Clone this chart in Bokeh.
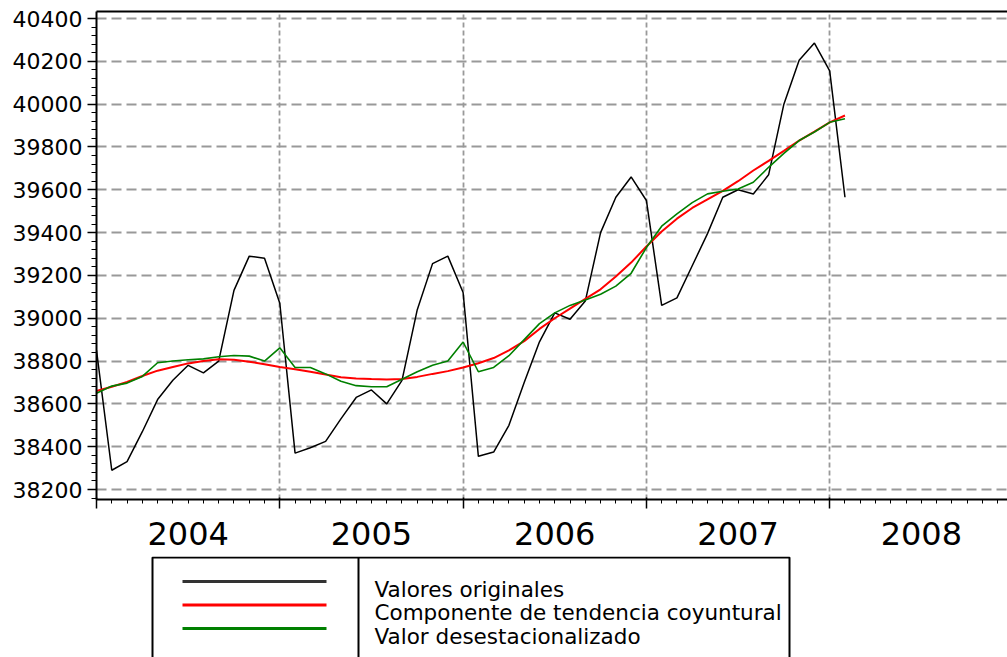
from bokeh.plotting import figure
from bokeh.models import (FixedTicker, LinearAxis, Range1d, CustomJSTickFormatter)
from bokeh.layouts import column
from bokeh.core.properties import value
from bokeh.embed import file_html
from bokeh.resources import INLINE

# ---------------- data (monthly, starting January 2004) ----------------
start_year = 2004
original = [38850, 38290, 38330, 38470, 38620, 38710, 38780, 38745, 38800, 39130, 39290, 39280,
            39070, 38370, 38395, 38425, 38530, 38630, 38665, 38600, 38710, 39040, 39255, 39290,
            39120, 38355, 38375, 38500, 38700, 38890, 39025, 38995, 39080, 39400, 39565, 39660,
            39550, 39060, 39095, 39245, 39395, 39565, 39600, 39580, 39670, 40000, 40205, 40285,
            40155, 39565]
trend = [38660, 38680, 38702, 38730, 38755, 38772, 38789, 38800, 38808, 38806, 38797, 38785,
         38772, 38762, 38750, 38737, 38724, 38719, 38716, 38714, 38716, 38726, 38740, 38753,
         38770, 38790, 38814, 38850, 38893, 38950, 39000, 39045, 39090, 39135, 39195, 39260,
         39335, 39405, 39465, 39515, 39555, 39595, 39640, 39690, 39735, 39782, 39830, 39872,
         39915, 39947]
adjusted = [38650, 38683, 38697, 38728, 38792, 38800, 38806, 38810, 38820, 38826, 38823, 38800,
            38862, 38770, 38770, 38740, 38706, 38685, 38680, 38680, 38715, 38750, 38780, 38800,
            38889, 38750, 38770, 38825, 38900, 38975, 39025, 39060, 39085, 39112, 39150, 39210,
            39330, 39430, 39487, 39540, 39581, 39593, 39604, 39635, 39705, 39770, 39830, 39870,
            39915, 39932]
series_names = ["Valores originales", "Componente de tendencia coyuntural", "Valor desestacionalizado"]
series_colors = ["black", "#ff0000", "#008000"]
year_labels = ["2004", "2005", "2006", "2007", "2008"]
y_ticks = [38200, 38400, 38600, 38800, 39000, 39200, 39400, 39600, 39800, 40000, 40200, 40400]

months = [start_year + i / 12 for i in range(len(original))]
year_bounds = [start_year + k for k in range(len(year_labels))]
year_mids = [start_year + k + 0.5 for k in range(len(year_labels))]
month_ticks = [start_year + k / 12 for k in range(12 * len(year_labels))]
y_minor = [38160 + 40 * k for k in range(59)]

FONT = "DejaVu Sans"
W = 1007
LEFT = 96

# ---------------- main chart ----------------
p = figure(width=W, height=556, output_backend="svg", toolbar_location=None,
           x_range=Range1d(2004, 2008.97), y_range=Range1d(38153.3, 40432.7),
           min_border_left=LEFT, min_border_right=0, min_border_top=11, min_border_bottom=57,
           background_fill_color="white", border_fill_color="white")
p.outline_line_color = None

# grids
p.xgrid.ticker = FixedTicker(ticks=year_bounds)
p.xgrid.grid_line_color = "#999999"
p.xgrid.grid_line_dash = "5 3"
p.xgrid.grid_line_width = 1.8
p.ygrid.ticker = FixedTicker(ticks=y_ticks)
p.ygrid.grid_line_color = "#999999"
p.ygrid.grid_line_dash = "10 5"
p.ygrid.grid_line_width = 1.8

for vals, col, w in zip([original, trend, adjusted], series_colors, [1.5, 2.0, 1.6]):
    p.line(months, vals, line_color=col, line_width=w)

# y axis
ya = p.yaxis[0]
ya.ticker = FixedTicker(ticks=y_ticks, minor_ticks=y_minor)
ya.major_label_text_font = FONT
ya.major_label_text_font_size = "22px"
ya.major_label_text_color = "black"
ya.major_tick_out = 9
ya.major_tick_in = 0
ya.minor_tick_out = 5
ya.minor_tick_in = 0
ya.major_label_standoff = 5
ya.axis_line_width = 2
ya.axis_line_color = "black"
ya.major_tick_line_color = "black"
ya.minor_tick_line_color = "black"
ya.major_tick_line_width = 1.5

# x axis (ticks only, labels not drawn)
xa = p.xaxis[0]
xa.ticker = FixedTicker(ticks=year_bounds, minor_ticks=month_ticks)
xa.major_label_text_font_size = "0px"
xa.major_label_text_color = None
xa.major_label_standoff = 0
xa.major_tick_out = 9
xa.major_tick_in = 2
xa.minor_tick_out = 4
xa.minor_tick_in = 0
xa.axis_line_width = 2
xa.axis_line_color = "black"
xa.major_tick_line_color = "black"
xa.minor_tick_line_color = "black"
xa.major_tick_line_width = 1.5

# x axis year labels (centred on each year)
xl = LinearAxis(ticker=FixedTicker(ticks=year_mids, minor_ticks=[]),
                formatter=CustomJSTickFormatter(code="return String(Math.floor(tick));"))
xl.axis_line_color = None
xl.major_tick_line_color = None
xl.minor_tick_line_color = None
xl.major_tick_out = 0
xl.major_tick_in = 0
xl.major_label_standoff = 13
xl.major_label_text_font = FONT
xl.major_label_text_font_size = "32px"
xl.major_label_text_color = "black"
p.add_layout(xl, "below")

# top border
top = LinearAxis(ticker=FixedTicker(ticks=[], minor_ticks=[]))
top.major_label_text_font_size = "0px"
top.major_label_text_color = None
top.major_label_standoff = 0
top.major_tick_out = 0
top.major_tick_in = 0
top.minor_tick_out = 0
top.minor_tick_in = 0
top.axis_line_width = 2
top.axis_line_color = "black"
p.add_layout(top, "above")

# ---------------- legend panel (page pixel coordinates) ----------------
q = figure(width=W, height=101, output_backend="svg", toolbar_location=None,
           x_range=Range1d(LEFT, W), y_range=Range1d(657, 556),
           min_border_left=LEFT, min_border_right=0, min_border_top=0, min_border_bottom=0,
           x_axis_type=None, y_axis_type=None)
q.outline_line_color = None
q.xgrid.visible = False
q.ygrid.visible = False

q.line([152, 152, 789, 789], [670, 557, 557, 670], line_color="black", line_width=2)
q.line([358, 358], [557, 670], line_color="black", line_width=2)
row_y = [581, 604.5, 628]
q.segment(x0=[182] * 3, x1=[326] * 3, y0=row_y, y1=row_y,
          line_color=["#333333", "#ff0000", "#008000"], line_width=3)
q.text(x=[374] * 3, y=[y + 7.5 for y in row_y], text=series_names,
       text_font=value(FONT), text_font_size="21.5px", text_color="black",
       text_baseline="alphabetic", text_align="left")

layout = column(p, q, spacing=0)
open("out.html", "w").write(file_html(layout, INLINE))
